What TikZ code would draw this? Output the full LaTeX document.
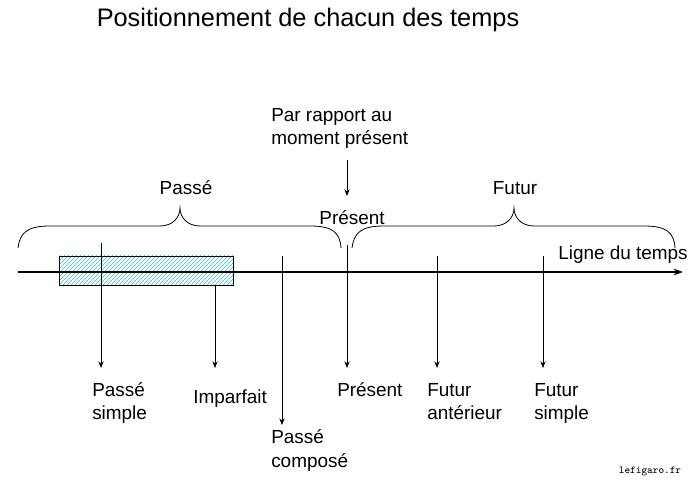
\documentclass[tikz,border=0pt]{standalone}
\usepackage{fontspec}
\setmainfont{Liberation Sans}
\usetikzlibrary{patterns,arrows.meta}
\begin{document}
\begin{tikzpicture}[x=0.75pt,y=-0.75pt,
  lab/.style={font=\fontsize{14.2}{17.25}\selectfont,align=left,inner sep=0pt},
  arr/.style={-{Stealth[length=5pt,width=4pt]},line width=0.6pt},
  br/.style={line width=0.6pt}]
\useasboundingbox (0,0) rectangle (693,488);
\node[font=\fontsize{19}{22}\selectfont,inner sep=0pt] (title) at (308,20) {Positionnement de chacun des temps};
% rectangle
\node[draw,line width=0.6pt,pattern={north east lines},pattern color=cyan!50!gray,minimum width=174*0.75pt,minimum height=29*0.75pt,inner sep=0pt] (rect) at (146,270.5) {};
% axis
\coordinate (a0) at (18,272); \coordinate (a1) at (683,272);
\draw[-{Stealth[length=7pt,width=5pt]},line width=1.4pt] (a0) -- (a1);
% braces
\draw[br] (18,248) .. controls (20,232) and (28,226) .. (50,226) -- (160,226) .. controls (172,226) and (180,218) .. (180,208)
  .. controls (180,218) and (188,226) .. (200,226) -- (310,226) .. controls (332,226) and (340,232) .. (341,248);
\draw[br] (352,248) .. controls (354,232) and (362,226) .. (384,226) -- (494,226) .. controls (506,226) and (514,218) .. (514,208)
  .. controls (514,218) and (522,226) .. (534,226) -- (644,226) .. controls (666,226) and (674,232) .. (675,248);
% labels
\node[lab] (passe) at (186,188) {Passé};
\node[lab] (futur) at (515,188) {Futur};
\node[lab] (pres) at (352,218) {Présent};
\node[lab] (ligne) at (623,255) {Ligne du temps};
\node[lab,anchor=base west] (par) at (271,145) {Par rapport au\\moment présent};
\node[lab,anchor=base west] (ps) at (92,420) {Passé\\simple};
\node[lab,anchor=base west] (imp) at (193,403) {Imparfait};
\node[lab,anchor=base west] (pc) at (271,467) {Passé\\composé};
\node[lab,anchor=base west] (pr) at (337,397) {Présent};
\node[lab,anchor=base west] (fa) at (427,420) {Futur\\antérieur};
\node[lab,anchor=base west] (fs) at (534,420) {Futur\\simple};
\node[font=\ttfamily\fontsize{8}{9}\selectfont,inner sep=0pt] (wm) at (650,471) {lefigaro.fr};
% arrows
\coordinate (t1) at (101,243); \coordinate (e1) at (101,368);
\coordinate (t2) at (215,285); \coordinate (e2) at (215,368);
\coordinate (t3) at (282,256); \coordinate (e3) at (282,425);
\coordinate (t4) at (347,245); \coordinate (e4) at (347,368);
\coordinate (t5) at (437,256); \coordinate (e5) at (437,368);
\coordinate (t6) at (543,256); \coordinate (e6) at (543,368);
\coordinate (p1) at (347,160); \coordinate (p2) at (347,196);
\foreach \i in {1,...,6} \draw[arr] (t\i) -- (e\i);
\draw[arr] (p1) -- (p2);
\end{tikzpicture}
\end{document}
